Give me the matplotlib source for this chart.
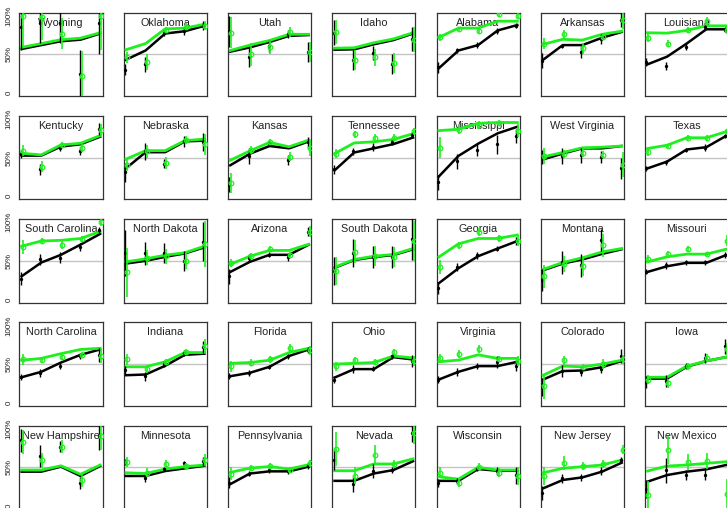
"""
Small multiples of state trends: black and green lines with raw estimates and error bars.
"""

import numpy as np
import matplotlib
matplotlib.use('agg')
from matplotlib import pyplot as plt

plt.rcParams['font.family'] = ['Liberation Sans', 'DejaVu Sans']

nan = np.nan

states = ['Wyoming', 'Oklahoma', 'Utah', 'Idaho', 'Alabama', 'Arkansas', 'Louisiana',
          'Kentucky', 'Nebraska', 'Kansas', 'Tennessee', 'Mississippi', 'West Virginia', 'Texas',
          'South Carolina', 'North Dakota', 'Arizona', 'South Dakota', 'Georgia', 'Montana', 'Missouri',
          'North Carolina', 'Indiana', 'Florida', 'Ohio', 'Virginia', 'Colorado', 'Iowa',
          'New Hampshire', 'Minnesota', 'Pennsylvania', 'Nevada', 'Wisconsin', 'New Jersey', 'New Mexico']

# smoothed lines
black_line = [
    [0.57, 0.62, 0.67, 0.69, 0.77], [0.43, 0.55, 0.77, 0.80, 0.87], [0.535, 0.59, 0.66, 0.74, 0.75],
    [0.56, 0.565, 0.63, 0.685, 0.77], [0.32, 0.55, 0.62, 0.81, 0.88], [0.43, 0.62, 0.62, 0.715, 0.79],
    [0.37, 0.47, 0.64, 0.825, 0.825],
    [0.526, 0.526, 0.643, 0.673, 0.77], [0.36, 0.57, 0.57, 0.71, 0.72], [0.40, 0.55, 0.65, 0.62, 0.71],
    [0.334, 0.566, 0.62, 0.675, 0.76], [0.255, 0.522, 0.68, 0.815, 0.90], [0.478, 0.552, 0.62, 0.62, 0.65],
    [0.36, 0.448, 0.605, 0.635, 0.78],
    [0.30, 0.478, 0.578, 0.71, 0.85], [0.465, 0.50, 0.552, 0.596, 0.675], [0.356, 0.487, 0.578, 0.578, 0.71],
    [0.41, 0.51, 0.55, 0.575, 0.65], [0.21, 0.404, 0.56, 0.66, 0.757], [0.378, 0.465, 0.518, 0.59, 0.65],
    [0.356, 0.43, 0.474, 0.474, 0.574],
    [0.33, 0.40, 0.52, 0.62, 0.69], [0.356, 0.365, 0.478, 0.62, 0.635], [0.343, 0.387, 0.465, 0.605, 0.69],
    [0.325, 0.435, 0.435, 0.59, 0.56], [0.30, 0.40, 0.474, 0.474, 0.53], [0.30, 0.41, 0.417, 0.46, 0.54],
    [0.312, 0.312, 0.465, 0.54, 0.59],
    [0.444, 0.444, 0.509, 0.388, 0.517], [0.388, 0.388, 0.452, 0.487, 0.52], [0.282, 0.42, 0.448, 0.448, 0.51],
    [0.325, 0.325, 0.42, 0.465, 0.58], [0.325, 0.325, 0.478, 0.456, 0.456], [0.228, 0.336, 0.37, 0.444, 0.56],
    [0.314, 0.40, 0.444, 0.474, 0.53],
]
green_line = [
    [0.59, 0.64, 0.69, 0.71, 0.78], [0.56, 0.64, 0.83, 0.84, 0.89], [0.55, 0.62, 0.68, 0.76, 0.76],
    [0.58, 0.585, 0.65, 0.70, 0.78], [0.72, 0.84, 0.84, 0.93, 0.93], [0.63, 0.695, 0.685, 0.76, 0.80],
    [0.78, 0.775, 0.81, 0.87, 0.87],
    [0.556, 0.535, 0.664, 0.686, 0.785], [0.48, 0.59, 0.59, 0.72, 0.74], [0.465, 0.587, 0.697, 0.64, 0.727],
    [0.552, 0.69, 0.705, 0.735, 0.81], [0.85, 0.867, 0.945, 0.955, 0.955], [0.51, 0.566, 0.627, 0.635, 0.65],
    [0.618, 0.66, 0.757, 0.757, 0.835],
    [0.69, 0.757, 0.766, 0.79, 0.88], [0.487, 0.526, 0.574, 0.605, 0.69], [0.455, 0.56, 0.635, 0.635, 0.715],
    [0.417, 0.518, 0.56, 0.583, 0.66], [0.55, 0.72, 0.79, 0.79, 0.835], [0.39, 0.478, 0.54, 0.615, 0.66],
    [0.487, 0.552, 0.587, 0.587, 0.65],
    [0.55, 0.574, 0.635, 0.69, 0.705], [0.465, 0.465, 0.53, 0.65, 0.65], [0.51, 0.52, 0.55, 0.65, 0.705],
    [0.50, 0.51, 0.52, 0.605, 0.58], [0.53, 0.552, 0.62, 0.574, 0.574], [0.356, 0.474, 0.465, 0.50, 0.55],
    [0.33, 0.33, 0.474, 0.54, 0.59],
    [0.465, 0.465, 0.52, 0.41, 0.53], [0.43, 0.42, 0.478, 0.509, 0.53], [0.435, 0.49, 0.51, 0.478, 0.535],
    [0.456, 0.456, 0.544, 0.544, 0.61], [0.378, 0.347, 0.50, 0.465, 0.465], [0.43, 0.487, 0.509, 0.53, 0.595],
    [0.452, 0.517, 0.53, 0.552, 0.573],
]

# raw estimates and their error bars (half widths)
black_pt = [
    [0.85, 0.90, 0.90, 0.25, 0.90], [0.30, 0.37, 0.78, 0.80, 0.87], [0.80, 0.47, 0.61, 0.76, 0.53],
    [0.78, 0.43, 0.52, 0.38, 0.70], [0.33, 0.55, 0.62, 0.80, 0.87], [0.42, 0.61, 0.53, 0.70, 0.95],
    [0.40, 0.35, 0.60, 0.85, 0.82],
    [0.55, 0.35, 0.62, 0.58, 0.87], [0.31, 0.58, 0.42, 0.71, 0.70], [0.15, 0.52, 0.69, 0.47, 0.70],
    [0.35, 0.58, 0.64, 0.70, 0.79], [0.18, 0.45, 0.60, 0.67, 0.78], [0.51, 0.52, 0.53, 0.51, 0.36],
    [0.36, 0.44, 0.60, 0.63, 0.78],
    [0.27, 0.52, 0.54, 0.68, 0.90], [0.60, 0.60, 0.60, 0.50, 0.75], [0.30, 0.54, 0.58, 0.55, 0.88],
    [0.37, 0.60, 0.55, 0.55, 0.78], [0.15, 0.42, 0.57, 0.66, 0.76], [0.25, 0.48, 0.44, 0.77, nan],
    [0.36, 0.44, 0.48, 0.48, 0.58],
    [0.33, 0.38, 0.48, 0.60, 0.62], [0.42, 0.34, 0.50, 0.64, 0.72], [0.35, 0.38, 0.46, 0.60, 0.68],
    [0.30, 0.44, 0.44, 0.60, 0.54], [0.30, 0.40, 0.48, 0.53, 0.48], [0.20, 0.41, 0.40, 0.44, 0.60],
    [0.27, 0.28, 0.47, 0.58, 0.73],
    [0.85, 0.65, 0.77, 0.30, 0.90], [0.57, 0.36, 0.48, 0.55, 0.58], [0.30, 0.42, 0.46, 0.45, 0.52],
    [0.60, 0.28, 0.45, 0.47, 0.95], [0.30, 0.32, 0.48, 0.45, 0.40], [0.17, 0.36, 0.37, 0.45, 0.60],
    [0.22, 0.46, 0.40, 0.40, nan],
]
black_err = [
    [0.30, 0.25, 0.25, 0.30, 0.40], [0.07, 0.10, 0.04, 0.05, 0.06], [0.20, 0.13, 0.08, 0.05, 0.13],
    [0.16, 0.13, 0.09, 0.13, 0.16], [0.07, 0.03, 0.04, 0.04, 0.03], [0.10, 0.03, 0.08, 0.07, 0.10],
    [0.05, 0.05, 0.05, 0.03, 0.03],
    [0.05, 0.07, 0.03, 0.05, 0.08], [0.12, 0.11, 0.06, 0.07, 0.12], [0.10, 0.10, 0.04, 0.07, 0.07],
    [0.06, 0.04, 0.05, 0.04, 0.04], [0.10, 0.10, 0.08, 0.12, 0.09], [0.09, 0.10, 0.10, 0.08, 0.14],
    [0.03, 0.03, 0.03, 0.05, 0.03],
    [0.08, 0.07, 0.07, 0.05, 0.04], [0.30, 0.15, 0.13, 0.13, 0.25], [0.10, 0.05, 0.03, 0.05, 0.06],
    [0.18, 0.18, 0.14, 0.14, 0.27], [0.08, 0.05, 0.04, 0.03, 0.05], [0.14, 0.15, 0.15, 0.14, nan],
    [0.03, 0.04, 0.03, 0.03, 0.04],
    [0.04, 0.05, 0.05, 0.04, 0.09], [0.05, 0.06, 0.04, 0.04, 0.08], [0.04, 0.04, 0.03, 0.03, 0.04],
    [0.05, 0.05, 0.03, 0.03, 0.08], [0.04, 0.05, 0.04, 0.08, 0.07], [0.12, 0.08, 0.06, 0.06, 0.09],
    [0.08, 0.08, 0.04, 0.06, 0.10],
    [0.15, 0.14, 0.07, 0.08, 0.18], [0.04, 0.05, 0.03, 0.03, 0.06], [0.07, 0.03, 0.03, 0.03, 0.04],
    [0.14, 0.10, 0.09, 0.04, 0.12], [0.05, 0.04, 0.03, 0.05, 0.11], [0.09, 0.06, 0.05, 0.05, 0.04],
    [0.12, 0.16, 0.07, 0.07, nan],
]
green_pt = [
    [1.00, 0.98, 0.77, 0.22, 1.00], [0.46, 0.40, 0.82, 0.86, 0.87], [0.78, 0.50, 0.60, 0.79, 0.53],
    [0.79, 0.43, 0.46, 0.39, 0.69], [0.72, 0.83, 0.80, 1.02, 1.00], [0.64, 0.76, 0.58, 0.73, 0.95],
    [0.71, 0.64, 0.82, 0.93, 0.82],
    [0.59, 0.38, 0.66, 0.62, 0.86], [0.41, 0.58, 0.43, 0.73, 0.67], [0.17, 0.60, 0.70, 0.51, 0.63],
    [0.55, 0.80, 0.76, 0.76, 0.84], [0.63, 0.86, 0.92, 0.95, 0.85], [0.52, 0.55, 0.56, 0.54, 0.41],
    [0.57, 0.65, 0.76, 0.75, 0.84],
    [0.68, 0.76, 0.71, 0.78, 1.00], [0.35, 0.54, 0.56, 0.50, 0.72], [0.47, 0.56, 0.65, 0.58, 0.88],
    [0.37, 0.62, 0.56, 0.55, 0.76], [0.42, 0.70, 0.87, 0.79, 0.76], [0.30, 0.46, 0.43, 0.70, nan],
    [0.52, 0.59, 0.65, 0.59, 0.76],
    [0.56, 0.55, 0.59, 0.62, 0.60], [0.56, 0.43, 0.53, 0.66, 0.74], [0.47, 0.52, 0.56, 0.71, 0.68],
    [0.47, 0.55, 0.53, 0.66, 0.54], [0.58, 0.63, 0.70, 0.57, 0.54], [0.21, 0.55, 0.46, 0.50, 0.56],
    [0.30, 0.25, 0.47, 0.58, 0.70],
    [0.83, 0.59, 0.77, 0.33, 0.90], [0.57, 0.43, 0.54, 0.52, 0.60], [0.42, 0.49, 0.52, 0.47, 0.55],
    [0.74, 0.39, 0.66, 0.54, 0.95], [0.43, 0.30, 0.51, 0.43, 0.39], [0.39, 0.56, 0.52, 0.54, 0.73],
    [0.14, 0.72, 0.57, 0.58, 0.15],
]
green_err = [
    [0.40, 0.30, 0.20, 0.32, 0.45], [0.07, 0.10, 0.04, 0.04, 0.06], [0.20, 0.15, 0.10, 0.07, 0.13],
    [0.16, 0.13, 0.11, 0.13, 0.16], [0.05, 0.03, 0.04, 0.04, 0.04], [0.07, 0.05, 0.07, 0.05, 0.12],
    [0.05, 0.05, 0.04, 0.05, 0.05],
    [0.07, 0.07, 0.04, 0.05, 0.08], [0.09, 0.08, 0.08, 0.05, 0.13], [0.13, 0.05, 0.04, 0.06, 0.11],
    [0.06, 0.05, 0.04, 0.04, 0.05], [0.14, 0.06, 0.05, 0.04, 0.08], [0.10, 0.05, 0.05, 0.05, 0.16],
    [0.05, 0.03, 0.03, 0.04, 0.03],
    [0.09, 0.04, 0.05, 0.04, 0.05], [0.32, 0.10, 0.10, 0.10, 0.30], [0.05, 0.04, 0.04, 0.04, 0.07],
    [0.18, 0.15, 0.13, 0.13, 0.26], [0.09, 0.04, 0.05, 0.04, 0.07], [0.15, 0.10, 0.12, 0.15, nan],
    [0.05, 0.04, 0.04, 0.03, 0.07],
    [0.07, 0.04, 0.04, 0.04, 0.09], [0.07, 0.04, 0.03, 0.04, 0.09], [0.07, 0.04, 0.04, 0.05, 0.06],
    [0.06, 0.04, 0.03, 0.04, 0.07], [0.05, 0.05, 0.05, 0.04, 0.06], [0.16, 0.06, 0.04, 0.07, 0.06],
    [0.06, 0.06, 0.05, 0.05, 0.08],
    [0.16, 0.10, 0.08, 0.08, 0.18], [0.06, 0.06, 0.05, 0.04, 0.07], [0.08, 0.04, 0.04, 0.04, 0.05],
    [0.22, 0.11, 0.13, 0.05, 0.15], [0.07, 0.06, 0.04, 0.06, 0.12], [0.12, 0.09, 0.05, 0.05, 0.06],
    [0.18, 0.18, 0.10, 0.10, 0.20],
]

GREEN = '#1ef01e'
W, H = 727.0, 508.0
x = np.arange(5)

fig = plt.figure(figsize=(W / 100, H / 100), dpi=100)

for k, state in enumerate(states):
    row, col = divmod(k, 7)
    left = 19.3 + 104.3 * col
    top = 12.7 + 103.25 * row
    ax = fig.add_axes([left / W, 1 - (top + 83.3) / H, 83.2 / W, 83.3 / H])
    ax.set_xlim(-0.12, 4.12)
    ax.set_ylim(-0.04, 1.04)

    ax.axhline(0.5, color='#c4c4c4', lw=1, zorder=1)
    ax.plot(x, black_line[k], color='black', lw=1.8, zorder=3)
    ax.plot(x, green_line[k], color=GREEN, lw=2, zorder=4)

    bp = np.array(black_pt[k])
    be = np.array(black_err[k])
    ax.vlines(x - 0.05, bp - be, bp + be, color='black', lw=1, zorder=5)
    ax.plot(x - 0.05, bp, 'o', ms=1.4, color='black', zorder=5)

    gp = np.array(green_pt[k])
    ge = np.array(green_err[k])
    ax.vlines(x + 0.05, gp - ge, gp + ge, color=GREEN, lw=1.2, zorder=6)
    ax.plot(x + 0.05, gp, 'o', ms=3.3, mfc='none', mec=GREEN, mew=0.9, zorder=6)

    ax.text(0.5, 0.845, state, transform=ax.transAxes, ha='center', va='baseline',
            fontsize=7.8, color='#222222', zorder=2)

    for sp in ax.spines.values():
        sp.set_color('#333333')
        sp.set_linewidth(0.9)
    ax.set_xticks([])
    if col == 0:
        ax.set_yticks([0, 0.5, 1])
        ax.set_yticklabels(['0', '50%', '100%'], rotation=90, va='center')
        ax.tick_params(axis='y', length=0, pad=5, labelsize=5.8, labelcolor='#222222')
    else:
        ax.set_yticks([])

fig.savefig('out.png', dpi=100)
